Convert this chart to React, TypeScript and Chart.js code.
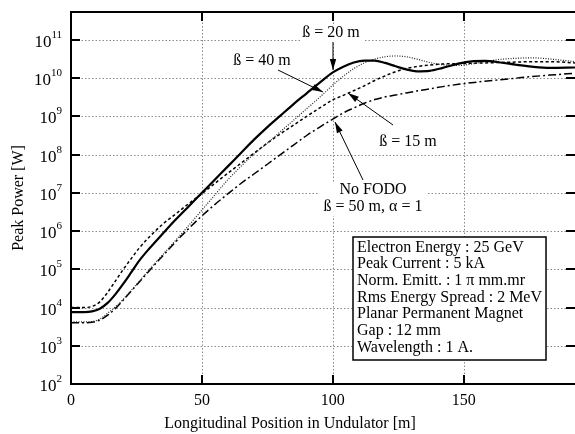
import React, { useEffect, useRef } from "react";
import { Chart, registerables } from "chart.js";
Chart.register(...registerables);

// Longitudinal position in undulator [m]
const positions = [0, 5, 8, 11, 14, 17, 20, 23, 26, 30, 35, 40, 45, 50, 55, 60, 65, 70, 75, 80, 85, 90, 95, 100, 104, 108, 112, 116, 120, 124, 128, 132, 137, 142, 148, 153, 158, 164, 170, 176, 183, 192.5];

// Peak power [W]
const beta20 = [7.6e3, 7.6e3, 7.9e3, 9.3e3, 1.32e4, 2.24e4, 4.2e4, 8.3e4, 1.66e5, 3.55e5, 8.5e5, 2.0e6, 4.47e6, 1.0e7, 2.24e7, 5.0e7, 1.12e8, 2.5e8, 5.25e8, 1.05e9, 2.1e9, 4.0e9, 7.6e9, 1.41e10, 2.0e10, 2.57e10, 2.88e10, 2.88e10, 2.5e10, 2.04e10, 1.7e10, 1.51e10, 1.55e10, 1.86e10, 2.4e10, 2.75e10, 2.82e10, 2.57e10, 2.24e10, 2.0e10, 1.86e10, 1.9e10];
const beta40 = [4.2e3, 4.2e3, 4.3e3, 5.0e3, 7.1e3, 1.05e4, 1.66e4, 2.8e4, 4.8e4, 1.0e5, 2.4e5, 5.75e5, 1.41e6, 3.55e6, 8.9e6, 2.24e7, 5.0e7, 1.05e8, 2.0e8, 4.0e8, 7.9e8, 1.58e9, 3.16e9, 6.6e9, 1.12e10, 1.78e10, 2.5e10, 3.16e10, 3.63e10, 3.8e10, 3.63e10, 3.16e10, 2.57e10, 2.24e10, 2.14e10, 2.34e10, 2.7e10, 3.1e10, 3.3e10, 3.4e10, 3.16e10, 2.7e10];
const beta15 = [1.0e4, 1.0e4, 1.07e4, 1.41e4, 2.5e4, 5.0e4, 1.0e5, 1.9e5, 3.55e5, 7.1e5, 1.51e6, 2.8e6, 5.25e6, 9.5e6, 1.78e7, 3.3e7, 6.0e7, 1.1e8, 2.0e8, 3.5e8, 5.9e8, 1.0e9, 1.66e9, 2.7e9, 3.55e9, 4.7e9, 6.3e9, 8.7e9, 1.15e10, 1.48e10, 1.78e10, 2.0e10, 2.2e10, 2.34e10, 2.4e10, 2.45e10, 2.5e10, 2.57e10, 2.63e10, 2.7e10, 2.7e10, 2.5e10];
const noFodo = [4.0e3, 4.0e3, 4.1e3, 4.7e3, 6.3e3, 9.5e3, 1.58e4, 2.7e4, 4.6e4, 9.3e4, 2.24e5, 5.25e5, 1.17e6, 2.5e6, 5.0e6, 9.5e6, 1.78e7, 3.16e7, 5.6e7, 1.0e8, 1.78e8, 3.16e8, 5.25e8, 8.5e8, 1.23e9, 1.66e9, 2.2e9, 2.75e9, 3.24e9, 3.63e9, 4.1e9, 4.6e9, 5.25e9, 6.0e9, 6.9e9, 7.6e9, 8.3e9, 9.1e9, 1.0e10, 1.1e10, 1.2e10, 1.35e10];

const xTickValues = [0, 50, 100, 150];
const yTickExponents = [2, 3, 4, 5, 6, 7, 8, 9, 10, 11];
const xTitle = "Longitudinal Position in Undulator [m]";
const yTitle = "Peak Power [W]";
const infoLines = [
  "Electron Energy : 25 GeV",
  "Peak Current : 5 kA",
  "Norm. Emitt. : 1 \u03c0 mm.mr",
  "Rms Energy Spread : 2 MeV",
  "Planar Permanent Magnet",
  "Gap : 12 mm",
  "Wavelength : 1 A.",
];

const FONT = '"Liberation Serif", "Times New Roman", serif';

function arrow(ctx: CanvasRenderingContext2D, x1: number, y1: number, x2: number, y2: number) {
  ctx.beginPath();
  ctx.moveTo(x1, y1);
  ctx.lineTo(x2, y2);
  ctx.stroke();
  const ang = Math.atan2(y2 - y1, x2 - x1);
  const L = 11, W = 3.2;
  const bx = x2 - L * Math.cos(ang), by = y2 - L * Math.sin(ang);
  ctx.beginPath();
  ctx.moveTo(x2, y2);
  ctx.lineTo(bx + W * Math.sin(ang), by - W * Math.cos(ang));
  ctx.lineTo(bx - W * Math.sin(ang), by + W * Math.cos(ang));
  ctx.closePath();
  ctx.fill();
}

const decor = {
  id: "decor",
  beforeDatasetsDraw(chart: any) {
    const { ctx, chartArea: a, scales } = chart;
    const x = scales.x, y = scales.y;
    ctx.save();
    ctx.strokeStyle = "#8a8a8a";
    ctx.lineWidth = 1;
    ctx.setLineDash([1.5, 2]);
    yTickExponents.forEach((e) => {
      if (e === 2) return;
      const py = Math.round(y.getPixelForValue(Math.pow(10, e))) + 0.5;
      ctx.beginPath();
      ctx.moveTo(a.left, py);
      ctx.lineTo(a.right, py);
      ctx.stroke();
    });
    xTickValues.forEach((v) => {
      if (v === 0) return;
      const px = Math.round(x.getPixelForValue(v)) + 0.5;
      ctx.beginPath();
      ctx.moveTo(px, a.top);
      ctx.lineTo(px, a.bottom);
      ctx.stroke();
    });
    ctx.restore();
  },
  afterDatasetsDraw(chart: any) {
    const { ctx, chartArea: a, scales } = chart;
    const x = scales.x, y = scales.y;
    ctx.save();
    ctx.setLineDash([]);
    ctx.fillStyle = "#000";
    ctx.strokeStyle = "#000";

    // label backgrounds (hide grid behind text)
    ctx.fillStyle = "#fff";
    ctx.fillRect(300, 25, 64, 17);
    ctx.fillRect(319, 182, 108, 34);

    // annotation labels
    ctx.fillStyle = "#000";
    ctx.font = `16px ${FONT}`;
    ctx.textAlign = "center";
    ctx.textBaseline = "middle";
    ctx.fillText("\u00df = 20 m", 331, 33);
    ctx.fillText("\u00df = 40 m", 262, 61);
    ctx.fillText("\u00df = 15 m", 408, 142);
    ctx.fillText("No FODO", 373, 190);
    ctx.fillText("\u00df = 50 m, \u03b1 = 1", 373, 207);

    ctx.lineWidth = 1;
    arrow(ctx, 333, 42, 333, 70);
    arrow(ctx, 278, 70, 323, 92);
    arrow(ctx, 393, 125, 348, 93);
    arrow(ctx, 363, 180, 335, 122);

    // info box
    ctx.textAlign = "left";
    let maxW = 0;
    infoLines.forEach((t) => { maxW = Math.max(maxW, ctx.measureText(t).width); });
    const bx = 353, by = 237, bw = maxW + 8, bh = 123;
    ctx.fillStyle = "#fff";
    ctx.fillRect(bx, by, bw, bh);
    ctx.lineWidth = 1.5;
    ctx.strokeRect(bx, by, bw, bh);
    ctx.fillStyle = "#000";
    infoLines.forEach((t, i) => {
      ctx.fillText(t, bx + 4, by + 10.5 + i * 16.67);
    });

    // frame
    ctx.lineWidth = 2;
    ctx.beginPath();
    ctx.moveTo(a.right, a.top);
    ctx.lineTo(a.left, a.top);
    ctx.lineTo(a.left, a.bottom);
    ctx.lineTo(a.right, a.bottom);
    ctx.stroke();

    // ticks
    ctx.lineWidth = 2;
    const T = 9;
    yTickExponents.forEach((e) => {
      const py = Math.round(y.getPixelForValue(Math.pow(10, e)));
      ctx.beginPath();
      ctx.moveTo(a.left, py);
      ctx.lineTo(a.left + T, py);
      ctx.moveTo(a.right, py);
      ctx.lineTo(a.right - T, py);
      ctx.stroke();
    });
    xTickValues.forEach((v) => {
      const px = Math.round(x.getPixelForValue(v));
      ctx.beginPath();
      ctx.moveTo(px, a.bottom);
      ctx.lineTo(px, a.bottom - T);
      ctx.moveTo(px, a.top);
      ctx.lineTo(px, a.top + T);
      ctx.stroke();
    });

    // y tick labels 10^n
    yTickExponents.forEach((e) => {
      const py = y.getPixelForValue(Math.pow(10, e));
      const exp = String(e);
      ctx.font = `11px ${FONT}`;
      const ew = ctx.measureText(exp).width;
      const right = 62;
      ctx.textAlign = "left";
      ctx.textBaseline = "alphabetic";
      ctx.fillText(exp, right - ew, py - 2);
      ctx.font = `17px ${FONT}`;
      ctx.textAlign = "right";
      ctx.fillText("10", right - ew, py + 7);
    });

    // x tick labels
    ctx.font = `16px ${FONT}`;
    ctx.textAlign = "center";
    ctx.textBaseline = "alphabetic";
    xTickValues.forEach((v) => {
      ctx.fillText(String(v), x.getPixelForValue(v), 405);
    });

    // titles
    ctx.fillText(xTitle, 290, 428);
    ctx.translate(19, 198);
    ctx.rotate(-Math.PI / 2);
    ctx.textBaseline = "middle";
    ctx.fillText(yTitle, 0, 0);
    ctx.restore();
  },
};

export default function App() {
  const ref = useRef<HTMLCanvasElement>(null);
  useEffect(() => {
    if (!ref.current) return;
    const mk = (arr: number[]) => positions.map((p, i) => ({ x: p, y: arr[i] }));
    const chart = new Chart(ref.current, {
      type: "line",
      data: {
        datasets: [
          { label: "\u00df = 20 m", data: mk(beta20), borderColor: "#000", borderWidth: 2.2 },
          { label: "\u00df = 40 m", data: mk(beta40), borderColor: "#222", borderWidth: 1.2, borderDash: [1, 1.5] },
          { label: "\u00df = 15 m", data: mk(beta15), borderColor: "#000", borderWidth: 1.5, borderDash: [3, 2.5] },
          { label: "No FODO, \u00df = 50 m, \u03b1 = 1", data: mk(noFodo), borderColor: "#000", borderWidth: 1.5, borderDash: [8, 3, 2, 3] },
        ],
      },
      options: {
        responsive: false,
        animation: false,
        events: [],
        layout: { padding: { left: 71, top: 12, right: 0, bottom: 50 } },
        elements: {
          point: { radius: 0 },
          line: { cubicInterpolationMode: "monotone", fill: false },
        },
        plugins: { legend: { display: false }, tooltip: { enabled: false } },
        scales: {
          x: { type: "linear", min: 0, max: 192.5, display: false },
          y: { type: "logarithmic", min: 100, max: 5.37e11, display: false },
        },
      },
      plugins: [decor],
    });
    return () => chart.destroy();
  }, []);
  return (
    <div style={{ position: "absolute", left: 0, top: 0, width: 575, height: 434, background: "#fff" }}>
      <canvas ref={ref} width={575} height={434} style={{ display: "block" }} />
    </div>
  );
}
